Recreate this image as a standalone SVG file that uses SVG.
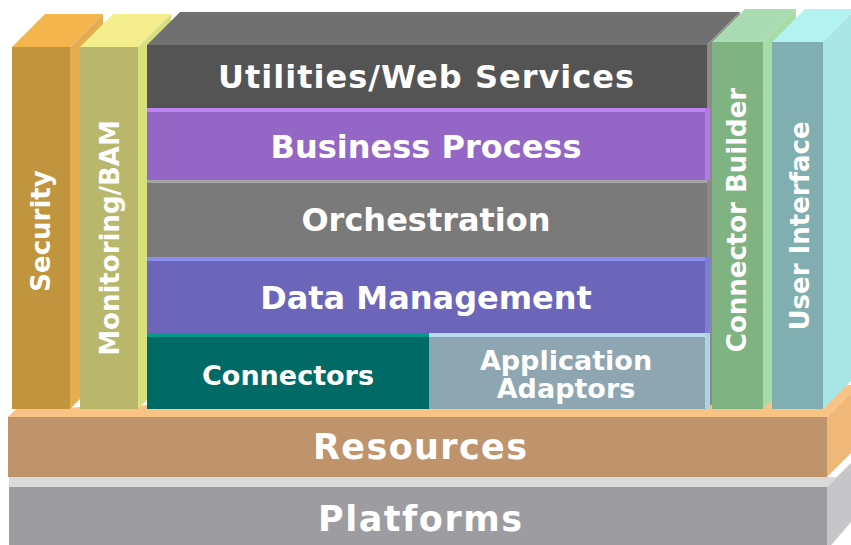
<svg xmlns="http://www.w3.org/2000/svg" width="851" height="545" viewBox="0 0 851 545">
<style>
.t{font-family:"DejaVu Sans","Verdana",sans-serif;font-weight:bold;fill:#ffffff;text-anchor:middle}
.l{font-size:32px}
.m{font-size:26px}
.s{font-size:27px}
.b{font-size:35px}
</style>
<rect width="851" height="545" fill="#ffffff"/>
<g id="platforms">
<polygon points="9,487 827,487 851,463 851,477 827,477 9,477" fill="#dadada"/>
<polygon points="827,487 851,463 851,522 827,550" fill="#c6c6c8"/>
<rect x="9" y="487" width="818" height="60" fill="#9d9ca0"/>
<text class="t b" x="420" y="531" textLength="204">Platforms</text>
</g>
<g id="resources">
<polygon points="8,417 827,417 851,393 851,385 16,409" fill="#f8c384"/>
<polygon points="827,417 851,393 851,453 827,477" fill="#efb878"/>
<rect x="8" y="417" width="819" height="60" fill="#bf936c"/>
<text class="t b" x="420" y="459" textLength="214">Resources</text>
</g>
<g id="security">
<polygon points="12,47 70,47 103,14 45,14" fill="#f4b54c"/>
<polygon points="70,47 103,14 103,376 70,409" fill="#e6ad4e"/>
<rect x="12" y="47" width="58" height="362" fill="#c0953e"/>
<text class="t m" transform="translate(41,231) rotate(-90)" y="9">Security</text>
</g>
<g id="monitoring">
<polygon points="80,47 138,47 171,14 113,14" fill="#f4ee8c"/>
<polygon points="138,47 171,14 171,376 138,409" fill="#d8df7e"/>
<rect x="80" y="47" width="58" height="362" fill="#b9b76c"/>
<text class="t m" transform="translate(110,238) rotate(-90)" y="9">Monitoring/BAM</text>
</g>
<g id="stack-top">
<polygon points="147,45 707,45 740,12 180,12" fill="#707070"/>
<polygon points="707,45 740,12 740,376 707,409" fill="#8a8a8a"/>
</g>
<g id="utilities">
<rect x="147" y="45" width="560" height="63" fill="#545454"/>
<text class="t l" x="426" y="88" textLength="416">Utilities/Web Services</text>
</g>
<g id="business-process">
<rect x="147" y="108" width="560" height="72" fill="#9466c6"/>
<rect x="147" y="108" width="560" height="4" fill="#c283f2"/>
<rect x="705" y="108" width="5" height="72" fill="#b27ae6"/>
<text class="t l" x="426" y="158">Business Process</text>
</g>
<g id="orchestration">
<rect x="147" y="180" width="560" height="77" fill="#7a7a7a"/>
<rect x="147" y="180" width="560" height="3" fill="#a4a4a4"/>
<text class="t l" x="426" y="231">Orchestration</text>
</g>
<g id="data-management">
<rect x="147" y="257" width="560" height="76" fill="#6b66ba"/>
<rect x="147" y="257" width="560" height="4" fill="#8b8bf0"/>
<rect x="705" y="257" width="5" height="76" fill="#7e7ede"/>
<text class="t l" x="426" y="309">Data Management</text>
</g>
<g id="connectors">
<rect x="147" y="333" width="282" height="76" fill="#006b66"/>
<rect x="147" y="333" width="282" height="4" fill="#009a8c"/>
<text class="t s" x="288" y="385">Connectors</text>
</g>
<g id="application-adaptors">
<rect x="429" y="333" width="278" height="76" fill="#8ea6b1"/>
<rect x="429" y="333" width="278" height="4" fill="#b8dcee"/>
<rect x="705" y="333" width="5" height="76" fill="#aed2e6"/>
<text class="t s" x="566" y="370">Application</text>
<text class="t s" x="566" y="398">Adaptors</text>
</g>
<g id="connector-builder">
<polygon points="712,42 763,42 796,9 745,9" fill="#a9dcb2"/>
<polygon points="763,42 796,9 796,376 763,409" fill="#a6dca6"/>
<rect x="712" y="42" width="51" height="367" fill="#7fb381"/>
<text class="t m" transform="translate(737,220) rotate(-90)" y="9">Connector Builder</text>
</g>
<g id="user-interface">
<polygon points="772,42 823,42 856,9 805,9" fill="#b2f2f0"/>
<polygon points="823,42 856,9 856,376 823,409" fill="#a8e6e6"/>
<rect x="772" y="42" width="51" height="367" fill="#80aeb1"/>
<text class="t m" transform="translate(800,226) rotate(-90)" y="9">User Interface</text>
</g>
</svg>
